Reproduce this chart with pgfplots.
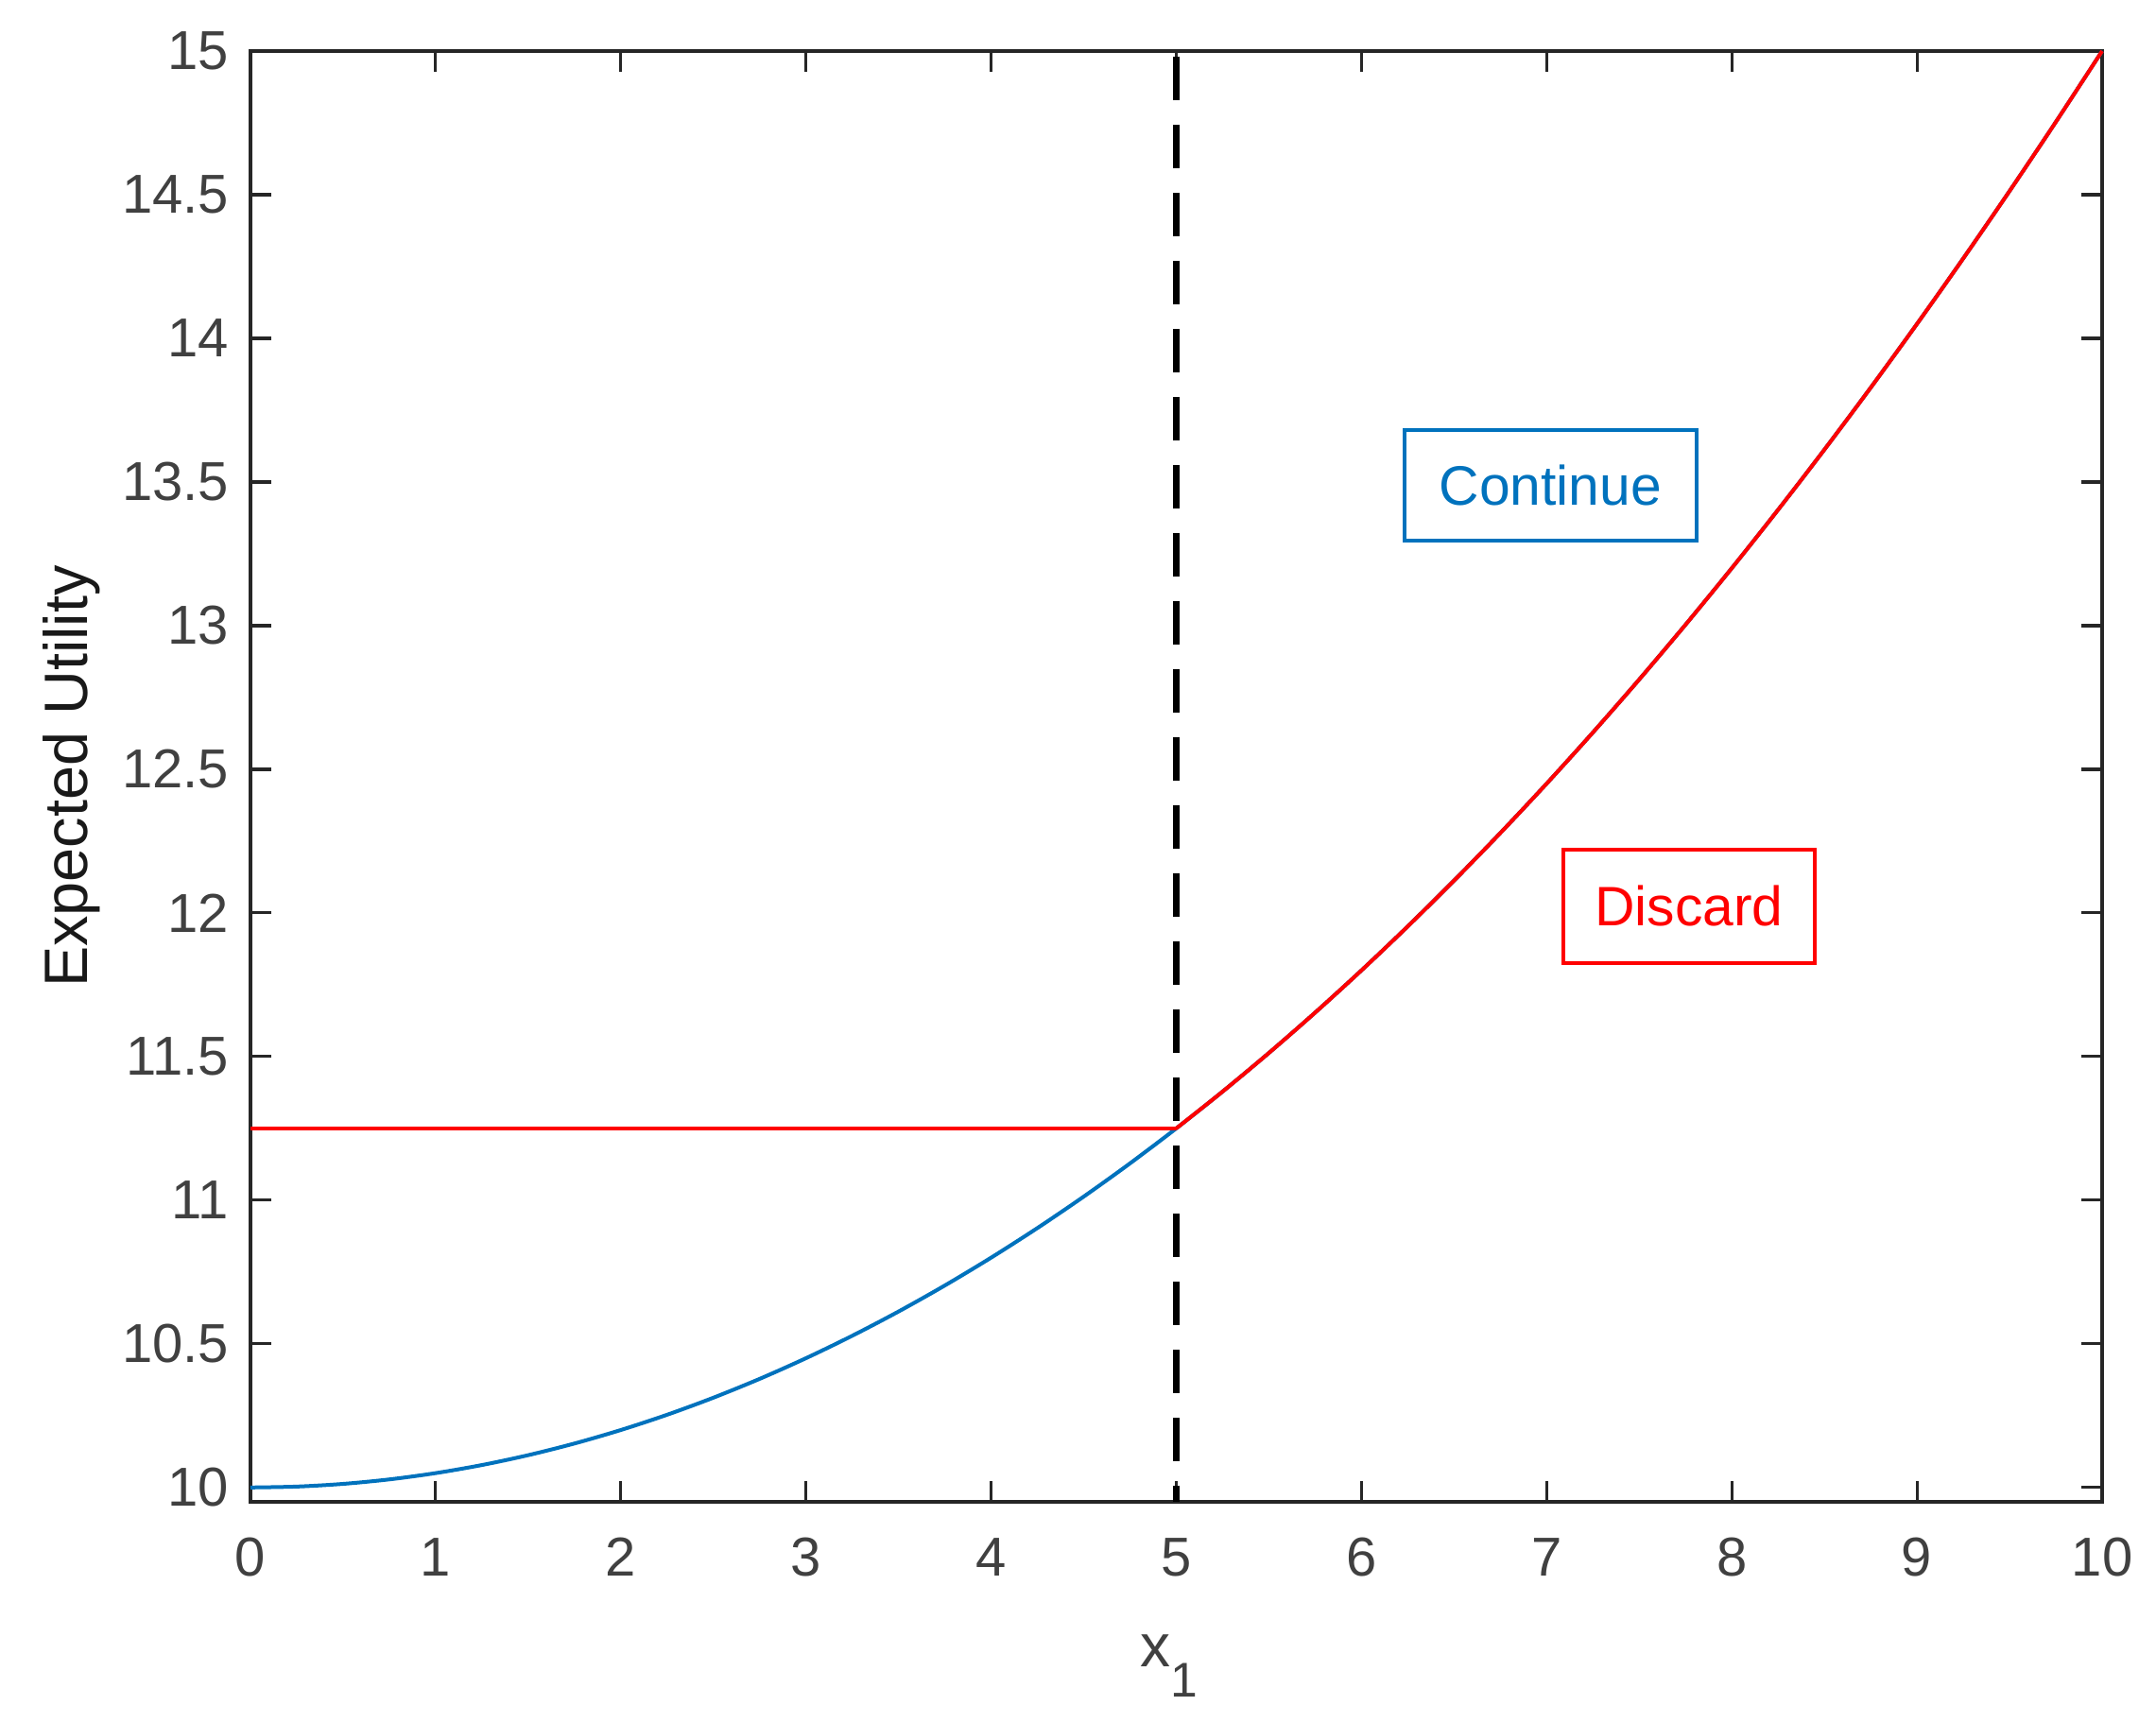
\documentclass[border=0pt]{standalone}
\usepackage{fontspec}
\setmainfont{Liberation Sans}
\usepackage{pgfplots}
\pgfplotsset{compat=1.18}
\definecolor{mlblue}{RGB}{0,114,189}
\definecolor{mlred}{RGB}{255,0,0}
\definecolor{axgray}{RGB}{38,38,38}
\definecolor{tickgray}{RGB}{64,64,64}

\begin{document}
\begin{tikzpicture}
\begin{axis}[
  scale only axis,
  width=489.75pt, height=383.75pt,
  xmin=0, xmax=10,
  ymin=9.95, ymax=15,
  xtick={0,1,...,10},
  ytick={10,10.5,...,15},
  tick align=inside,
  major tick length=5.5pt,
  axis line style={axgray, line width=0.8pt},
  every tick/.style={axgray, line width=0.8pt},
  /pgf/number format/assume math mode=true,
  /pgf/number format/.cd, fixed, precision=1, /pgfplots/.cd,
  ticklabel style={font=\fontsize{14.5}{17}\selectfont, text=tickgray},
  xticklabel style={yshift=-6pt},
  yticklabel style={xshift=-2.2pt},
  xlabel={x\raisebox{-8pt}{\fontsize{12.9}{15}\selectfont 1}},
  xlabel style={at={(axis description cs:0.5,0)}, anchor=base, yshift=-43.5pt, xshift=-2pt,
    font=\fontsize{16}{19}\selectfont, text=tickgray},
  ylabel={Expected Utility},
  ylabel style={at={(axis description cs:-0.0883,0.5)}, anchor=base,
    font=\fontsize{16.2}{19}\selectfont, text=black!90},
  clip=false,
]
% blue: expected utility of continuing
\addplot[mlblue, line width=1pt, smooth] coordinates {
  (0,10)(0.25,10.003125)(0.5,10.0125)(0.75,10.028125)(1,10.05)
  (1.25,10.078125)(1.5,10.1125)(1.75,10.153125)(2,10.2)
  (2.25,10.253125)(2.5,10.3125)(2.75,10.378125)(3,10.45)
  (3.25,10.528125)(3.5,10.6125)(3.75,10.703125)(4,10.8)
  (4.25,10.903125)(4.5,11.0125)(4.75,11.128125)(5,11.25)
  (5.25,11.378125)(5.5,11.5125)(5.75,11.653125)(6,11.8)
  (6.25,11.953125)(6.5,12.1125)(6.75,12.278125)(7,12.45)
  (7.25,12.628125)(7.5,12.8125)(7.75,13.003125)(8,13.2)
  (8.25,13.403125)(8.5,13.6125)(8.75,13.828125)(9,14.05)
  (9.25,14.278125)(9.5,14.5125)(9.75,14.753125)(10,15)
};
% red: discard
\addplot[mlred, line width=1pt] coordinates {(0,11.25)(5,11.25)};
\addplot[mlred, line width=1pt, smooth] coordinates {
  (5,11.25)(5.25,11.378125)(5.5,11.5125)(5.75,11.653125)(6,11.8)
  (6.25,11.953125)(6.5,12.1125)(6.75,12.278125)(7,12.45)
  (7.25,12.628125)(7.5,12.8125)(7.75,13.003125)(8,13.2)
  (8.25,13.403125)(8.5,13.6125)(8.75,13.828125)(9,14.05)
  (9.25,14.278125)(9.5,14.5125)(9.75,14.753125)(10,15)
};
% threshold
\addplot[black, line width=1.8pt, dash pattern=on 11.4pt off 6.6pt, dash phase=-1.5pt]
  coordinates {(5,15)(5,9.95)};

\node[draw=mlblue, line width=1pt, text=mlblue, minimum width=77.25pt, minimum height=29.25pt,
  inner sep=0pt, font=\fontsize{14.7}{17}\selectfont] at (axis cs:7.021,13.4885) {Continue};
\node[draw=mlred, line width=1pt, text=mlred, minimum width=66.5pt, minimum height=30pt,
  inner sep=0pt, font=\fontsize{14.7}{17}\selectfont] at (axis cs:7.769,12.024) {Discard};
\end{axis}
\pgfresetboundingbox
\path (-66.25pt,-58.25pt) rectangle (504pt,397.25pt);
\end{tikzpicture}
\end{document}
